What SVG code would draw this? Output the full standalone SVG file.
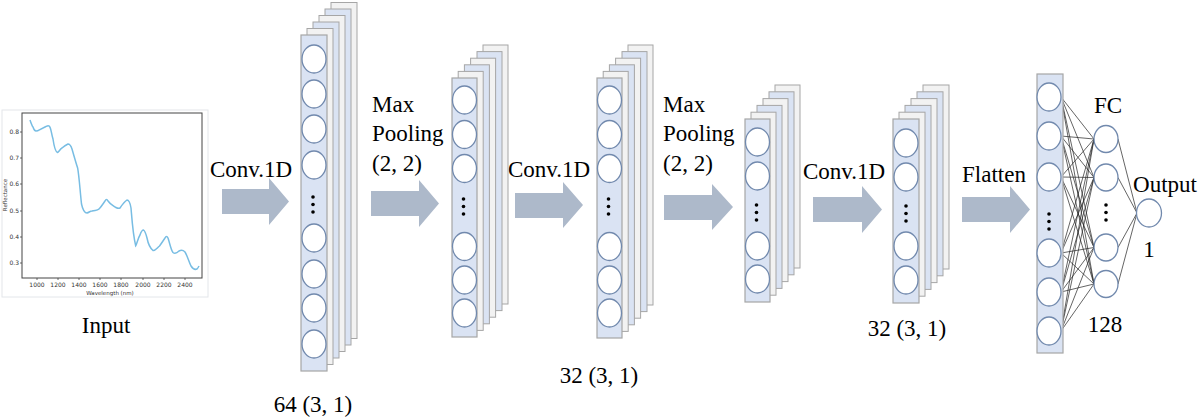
<svg xmlns="http://www.w3.org/2000/svg" width="1200" height="418" viewBox="0 0 1200 418">
<style>
.lbl{font-family:"Liberation Serif","Times New Roman",serif;font-size:23px;fill:#000}
.tk{font-family:"DejaVu Sans","Liberation Sans",sans-serif;font-size:6px;fill:#333}
.ax{font-family:"DejaVu Sans","Liberation Sans",sans-serif;font-size:5.5px;fill:#333}
.front{fill:#dae3f3;stroke:#a6a6a6;stroke-width:1.2}
.bg{fill:#f2f2f2;stroke:#a6a6a6;stroke-width:1}
.bb{fill:#dae3f3;stroke:#a6a6a6;stroke-width:1}
.n{fill:#fff;stroke:#7189ad;stroke-width:1.3}
.dot{fill:#000}
.arr{fill:#adb9ca}
.w{stroke:#222;stroke-width:0.7;fill:none}
</style>

<g id="input">
<rect x="2" y="110" width="206" height="187" fill="#fff" stroke="#e3e6ea" stroke-width="1"/>
<rect x="22" y="113" width="180" height="165" fill="#fff" stroke="#444" stroke-width="1"/>
<g stroke="#444" stroke-width="0.8">
<line x1="37" y1="278" x2="37" y2="280"/><line x1="58" y1="278" x2="58" y2="280"/><line x1="79" y1="278" x2="79" y2="280"/><line x1="100" y1="278" x2="100" y2="280"/><line x1="121" y1="278" x2="121" y2="280"/><line x1="143" y1="278" x2="143" y2="280"/><line x1="164" y1="278" x2="164" y2="280"/><line x1="185" y1="278" x2="185" y2="280"/>
<line x1="20" y1="132" x2="22" y2="132"/><line x1="20" y1="158" x2="22" y2="158"/><line x1="20" y1="184" x2="22" y2="184"/><line x1="20" y1="211" x2="22" y2="211"/><line x1="20" y1="237" x2="22" y2="237"/><line x1="20" y1="263" x2="22" y2="263"/>
</g>
<g class="tk" text-anchor="middle">
<text x="37" y="287">1000</text><text x="58" y="287">1200</text><text x="79" y="287">1400</text><text x="100" y="287">1600</text><text x="121" y="287">1800</text><text x="143" y="287">2000</text><text x="164" y="287">2200</text><text x="185" y="287">2400</text>
</g>
<g class="tk" text-anchor="end">
<text x="19" y="134">0.8</text><text x="19" y="160">0.7</text><text x="19" y="186">0.6</text><text x="19" y="213">0.5</text><text x="19" y="239">0.4</text><text x="19" y="265">0.3</text>
</g>
<text class="ax" x="110" y="295" text-anchor="middle">Wavelength (nm)</text>
<text class="ax" transform="translate(7,195) rotate(-90)" text-anchor="middle">Reflectance</text>
<path d="M30,120 C31,123 32,126 33,127 C34,130 35,131 36,131 C37,131 38,131 39,130 C41,129 43,128 45,127 C47,126 48,125 49,126 C51,127 51,132 53,139 C54,146 56,152 57.5,152.5 C59,152 60,149 62,148 C64,146 66,145 68,144 C70,144 71,146 72,149 C74,156 76,163 77.7,168.3 C79,175 80,190 81.5,204 C83,211 85,213 87,213 C89,212.5 90,211 92,211 C95,210 97,211 99,209 C101,207 103,204 105,201 C106,199 107,199 108,201 C110,204 112,205 115,207 C117,208 118,209 120,208 C122,205 124,202 127,200 C129,200 130,202 131,208 C132,220 133,235 135.7,245.7 C137,244 138,238 140,235 C141,232 142,230 143.5,230 C145,231 146,234 147,238 C148,243 150,248 153,250.5 C155,251 157,248 159.5,246 C161,244 163,241 165,238 C166,236 167,236 168,238 C170,244 171,250 173,252.5 C175,254 177,253 179,251 C181,250 183,250 185,252 C187,255 189,262 191,266 C193,269 195,270 197,269 C198,268 198.5,267 199,266" fill="none" stroke="#78bde3" stroke-width="1.5"/>
<text class="lbl" x="106" y="333" text-anchor="middle">Input</text>
</g>

<g id="connectors">
<polygon class="arr" points="222,189 269,189 269,178 289,201.5 269,225 269,214 222,214"/>
<polygon class="arr" points="371,191 419,191 419,180 439,203.5 419,227 419,216 371,216"/>
<polygon class="arr" points="515,193 563,193 563,182 583,205 563,228 563,218 515,218"/>
<polygon class="arr" points="664,195 712,195 712,184 733,207 712,230 712,220 664,220"/>
<polygon class="arr" points="813,197 862,197 862,186 882,209.5 862,233 862,222 813,222"/>
<polygon class="arr" points="962,197 1010,197 1010,186 1030,209.5 1010,233 1010,222 962,222"/>
<g class="w">
<line x1="1061" y1="97" x2="1094" y2="139"/><line x1="1061" y1="97" x2="1094" y2="177.5"/><line x1="1061" y1="97" x2="1094" y2="247.5"/><line x1="1061" y1="97" x2="1094" y2="284"/>
<line x1="1061" y1="136" x2="1094" y2="139"/><line x1="1061" y1="136" x2="1094" y2="177.5"/><line x1="1061" y1="136" x2="1094" y2="247.5"/><line x1="1061" y1="136" x2="1094" y2="284"/>
<line x1="1061" y1="177" x2="1094" y2="139"/><line x1="1061" y1="177" x2="1094" y2="177.5"/><line x1="1061" y1="177" x2="1094" y2="247.5"/><line x1="1061" y1="177" x2="1094" y2="284"/>
<line x1="1061" y1="253" x2="1094" y2="139"/><line x1="1061" y1="253" x2="1094" y2="177.5"/><line x1="1061" y1="253" x2="1094" y2="247.5"/><line x1="1061" y1="253" x2="1094" y2="284"/>
<line x1="1061" y1="292" x2="1094" y2="139"/><line x1="1061" y1="292" x2="1094" y2="177.5"/><line x1="1061" y1="292" x2="1094" y2="247.5"/><line x1="1061" y1="292" x2="1094" y2="284"/>
<line x1="1061" y1="331" x2="1094" y2="139"/><line x1="1061" y1="331" x2="1094" y2="177.5"/><line x1="1061" y1="331" x2="1094" y2="247.5"/><line x1="1061" y1="331" x2="1094" y2="284"/>
<line x1="1118" y1="139" x2="1137" y2="213"/><line x1="1118" y1="177.5" x2="1137" y2="213"/><line x1="1118" y1="247.5" x2="1137" y2="213"/><line x1="1118" y1="284" x2="1137" y2="213"/>
</g>
</g>

<g id="labels">
<text class="lbl" x="210" y="177">Conv.1D</text>
<text class="lbl" x="372" y="112">Max</text>
<text class="lbl" x="372" y="141">Pooling</text>
<text class="lbl" x="372" y="171">(2, 2)</text>
<text class="lbl" x="508" y="177">Conv.1D</text>
<text class="lbl" x="663" y="112">Max</text>
<text class="lbl" x="663" y="141">Pooling</text>
<text class="lbl" x="663" y="171">(2, 2)</text>
<text class="lbl" x="803" y="179">Conv.1D</text>
<text class="lbl" x="962" y="182">Flatten</text>
</g>

<g id="conv1">
<rect class="bg" x="331" y="2.5" width="26" height="336"/>
<rect class="bb" x="325" y="9" width="26" height="336"/>
<rect class="bg" x="319" y="15.5" width="26" height="336"/>
<rect class="bb" x="313" y="22" width="26" height="336"/>
<rect class="bg" x="307" y="28.5" width="26" height="336"/>
<rect class="front" x="301" y="35" width="26" height="336"/>
<ellipse class="n" cx="314" cy="59" rx="12" ry="14"/>
<ellipse class="n" cx="314" cy="94" rx="12" ry="14"/>
<ellipse class="n" cx="314" cy="129" rx="12" ry="14"/>
<ellipse class="n" cx="314" cy="165" rx="12" ry="14"/>
<circle class="dot" cx="313" cy="197" r="1.8"/><circle class="dot" cx="313" cy="204.5" r="1.8"/><circle class="dot" cx="313" cy="212" r="1.8"/>
<ellipse class="n" cx="314" cy="238" rx="12" ry="14"/>
<ellipse class="n" cx="314" cy="274" rx="12" ry="14"/>
<ellipse class="n" cx="314" cy="308" rx="12" ry="14"/>
<ellipse class="n" cx="314" cy="344" rx="12" ry="14"/>
<text class="lbl" x="313" y="412" text-anchor="middle">64 (3, 1)</text>
</g>

<g id="pool1">
<rect class="bg" x="483" y="45" width="25" height="259"/>
<rect class="bb" x="477" y="51.6" width="25" height="259"/>
<rect class="bg" x="470.6" y="58.2" width="25" height="259"/>
<rect class="bb" x="464.4" y="64.8" width="25" height="259"/>
<rect class="bg" x="458.2" y="71.4" width="25" height="259"/>
<rect class="front" x="452" y="78" width="25" height="259"/>
<ellipse class="n" cx="464.5" cy="100" rx="12" ry="14"/>
<ellipse class="n" cx="464.5" cy="134.5" rx="12" ry="14"/>
<ellipse class="n" cx="464.5" cy="168.5" rx="12" ry="14"/>
<circle class="dot" cx="463.5" cy="199" r="1.8"/><circle class="dot" cx="463.5" cy="206.5" r="1.8"/><circle class="dot" cx="463.5" cy="214" r="1.8"/>
<ellipse class="n" cx="464.5" cy="246.5" rx="12" ry="14"/>
<ellipse class="n" cx="464.5" cy="280" rx="12" ry="14"/>
<ellipse class="n" cx="464.5" cy="313" rx="12" ry="14"/>
</g>

<g id="conv2">
<rect class="bg" x="628" y="45" width="25" height="260"/>
<rect class="bb" x="622" y="51.6" width="25" height="260"/>
<rect class="bg" x="615.6" y="58.2" width="25" height="260"/>
<rect class="bb" x="609.4" y="64.8" width="25" height="260"/>
<rect class="bg" x="603.2" y="71.4" width="25" height="260"/>
<rect class="front" x="597" y="78" width="25" height="260"/>
<ellipse class="n" cx="609.5" cy="100" rx="12" ry="14"/>
<ellipse class="n" cx="609.5" cy="134.5" rx="12" ry="14"/>
<ellipse class="n" cx="609.5" cy="168.5" rx="12" ry="14"/>
<circle class="dot" cx="608.5" cy="199" r="1.8"/><circle class="dot" cx="608.5" cy="206.5" r="1.8"/><circle class="dot" cx="608.5" cy="214" r="1.8"/>
<ellipse class="n" cx="609.5" cy="246.5" rx="12" ry="14"/>
<ellipse class="n" cx="609.5" cy="280" rx="12" ry="14"/>
<ellipse class="n" cx="609.5" cy="313" rx="12" ry="14"/>
<text class="lbl" x="599" y="383" text-anchor="middle">32 (3, 1)</text>
</g>

<g id="pool2">
<rect class="bg" x="775" y="85" width="25" height="183"/>
<rect class="bb" x="769" y="91.8" width="25" height="183"/>
<rect class="bg" x="763" y="98.6" width="25" height="183"/>
<rect class="bb" x="757" y="105.4" width="25" height="183"/>
<rect class="bg" x="751" y="112.2" width="25" height="183"/>
<rect class="front" x="745" y="119" width="25" height="183"/>
<ellipse class="n" cx="757.5" cy="142" rx="12" ry="14"/>
<ellipse class="n" cx="757.5" cy="176" rx="12" ry="14"/>
<circle class="dot" cx="756.5" cy="205" r="1.8"/><circle class="dot" cx="756.5" cy="212.5" r="1.8"/><circle class="dot" cx="756.5" cy="220" r="1.8"/>
<ellipse class="n" cx="757.5" cy="246" rx="12" ry="14"/>
<ellipse class="n" cx="757.5" cy="279" rx="12" ry="14"/>
</g>

<g id="conv3">
<rect class="bg" x="923" y="85" width="26" height="184"/>
<rect class="bb" x="917" y="91.8" width="26" height="184"/>
<rect class="bg" x="911" y="98.6" width="26" height="184"/>
<rect class="bb" x="905" y="105.4" width="26" height="184"/>
<rect class="bg" x="899" y="112.2" width="26" height="184"/>
<rect class="front" x="893" y="119" width="26" height="184"/>
<ellipse class="n" cx="906" cy="143" rx="12" ry="14"/>
<ellipse class="n" cx="906" cy="177" rx="12" ry="14"/>
<circle class="dot" cx="906" cy="206" r="1.8"/><circle class="dot" cx="906" cy="213.5" r="1.8"/><circle class="dot" cx="906" cy="221" r="1.8"/>
<ellipse class="n" cx="906" cy="246" rx="12" ry="14"/>
<ellipse class="n" cx="906" cy="280" rx="12" ry="14"/>
<text class="lbl" x="907" y="336" text-anchor="middle">32 (3, 1)</text>
</g>

<g id="flatten">
<rect class="front" x="1037" y="74" width="26" height="279"/>
<ellipse class="n" cx="1049" cy="97" rx="12" ry="14"/>
<ellipse class="n" cx="1049" cy="136" rx="12" ry="14"/>
<ellipse class="n" cx="1049" cy="177" rx="12" ry="14"/>
<circle class="dot" cx="1049" cy="214" r="1.8"/><circle class="dot" cx="1049" cy="221.5" r="1.8"/><circle class="dot" cx="1049" cy="229" r="1.8"/>
<ellipse class="n" cx="1049" cy="253" rx="12" ry="14"/>
<ellipse class="n" cx="1049" cy="292" rx="12" ry="14"/>
<ellipse class="n" cx="1049" cy="331" rx="12" ry="14"/>
</g>

<g id="fc">
<ellipse class="n" cx="1106" cy="139" rx="12" ry="13.5"/>
<ellipse class="n" cx="1106" cy="177.5" rx="12" ry="13.5"/>
<circle class="dot" cx="1106" cy="205" r="1.8"/><circle class="dot" cx="1106" cy="212.5" r="1.8"/><circle class="dot" cx="1106" cy="220" r="1.8"/>
<ellipse class="n" cx="1106" cy="247.5" rx="12" ry="13.5"/>
<ellipse class="n" cx="1106" cy="284" rx="12" ry="13.5"/>
<text class="lbl" x="1108" y="113" text-anchor="middle">FC</text>
<text class="lbl" x="1105" y="332" text-anchor="middle">128</text>
</g>

<g id="output">
<ellipse class="n" cx="1149" cy="213" rx="12.5" ry="14"/>
<text class="lbl" x="1165" y="192" text-anchor="middle">Output</text>
<text class="lbl" x="1149" y="257" text-anchor="middle">1</text>
</g>
</svg>
